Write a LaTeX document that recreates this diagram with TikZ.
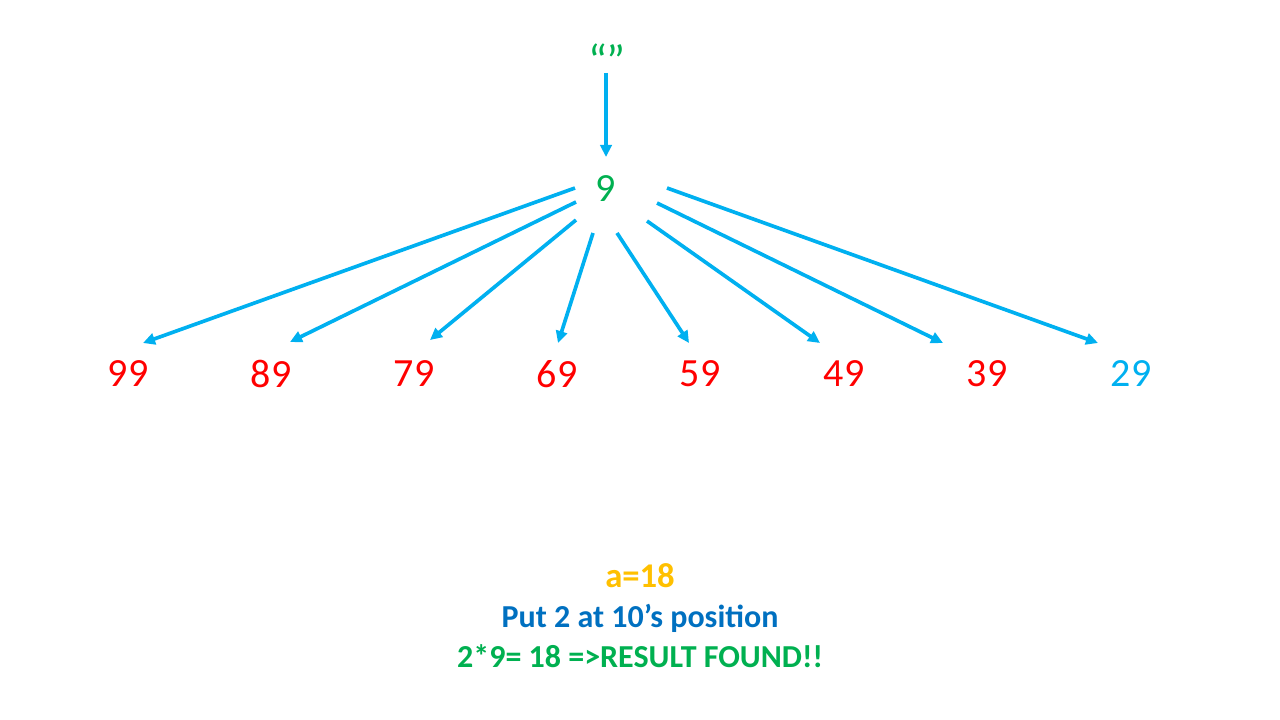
\documentclass[tikz,border=0pt]{standalone}
\usepackage{fontspec}
\setmainfont[Numbers=Lining]{Carlito}
\usetikzlibrary{arrows.meta}
\definecolor{sgreen}{HTML}{00B050}
\definecolor{sred}{HTML}{FF0000}
\definecolor{sky}{HTML}{00B0F0}
\definecolor{amber}{HTML}{FFC000}
\definecolor{deepblue}{HTML}{0070C0}
\begin{document}
\begin{tikzpicture}
    [x=0.75pt,y=-0.75pt,
     num/.style={inner sep=0pt,font=\fontsize{30}{36}\selectfont},
     link/.style={draw=sky,line width=2.75pt,-{Triangle[length=9pt,width=8.5pt]}},
     note/.style={inner sep=0pt,anchor=base,font=\fontsize{24}{29}\selectfont\bfseries}]
    \useasboundingbox (0,0) rectangle (1280,720);
    \node[num,text=sgreen,anchor=base,font=\fontsize{34}{40}\selectfont] (quote) at (607,77) {“”};
    \node[num,text=sgreen] (nine) at (606,189) {9};
    \node[num,text=sred] (n99) at (128,374) {99};
    \node[num,text=sred] (n89) at (271,374) {89};
    \node[num,text=sred] (n79) at (414,374) {79};
    \node[num,text=sred] (n69) at (557,374) {69};
    \node[num,text=sred] (n59) at (700,374) {59};
    \node[num,text=sred] (n49) at (844,374) {49};
    \node[num,text=sred] (n39) at (987,374) {39};
    \node[num,text=sky] (n29) at (1131,374) {29};
    \node[note,text=amber,font=\fontsize{26}{31}\selectfont\bfseries] (result) at (640,587) {a=18};
    \node[note,text=deepblue] (step) at (640,627) {Put 2 at 10’s position};
    \node[note,text=sgreen] (found) at (640,667) {2*9= 18 =>RESULT FOUND!!};
    % links
    \draw[link] ([shift={(-1,-4)}]quote.base) -- ([shift={(0,-32)}]nine.center);
    \foreach \to/\sx/\sy/\ex/\ey in {99/-31/-1/15/-31, 89/-30/13/19/-32,
        79/-30/31/16/-34, 69/-13/44/1/-31, 59/11/44/-11/-31,
        49/41/32/-24/-31, 39/51/14/-44/-31, 29/61/-1/-33/-31}
      \draw[link] ([shift={(\sx,\sy)}]nine.center) -- ([shift={(\ex,\ey)}]n\to.center);
\end{tikzpicture}
\end{document}
